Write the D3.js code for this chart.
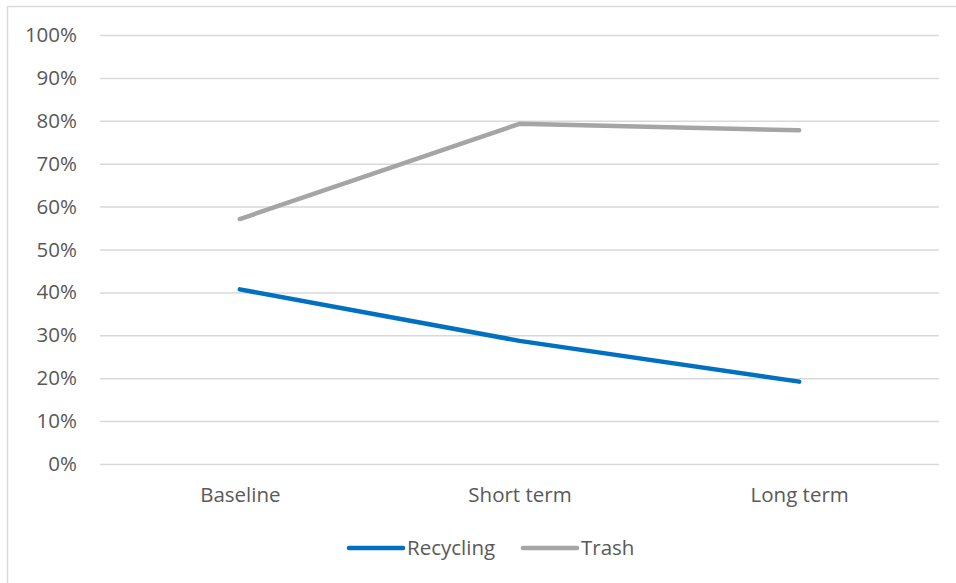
<!DOCTYPE html>
<html><head><meta charset="utf-8">
<script src="https://cdn.jsdelivr.net/npm/d3@7"></script>
<style>body{margin:0;background:#fff;} svg{display:block;}</style>
</head><body>
<script>
const categories = ["Baseline", "Short term", "Long term"];
const recycling = [0.407, 0.287, 0.192];
const trash = [0.571, 0.793, 0.778];
const seriesNames = ["Recycling", "Trash"];
const yTicks = [0, 0.1, 0.2, 0.3, 0.4, 0.5, 0.6, 0.7, 0.8, 0.9, 1.0];

(function () {
const W = 956, H = 583;
const svg = d3.select("body").append("svg").attr("width", W).attr("height", H);
const font = "'Open Sans', sans-serif";
const fontSize = "20.5px";
const textColor = "#595959";

svg.append("rect").attr("x", 7.5).attr("y", 6.5).attr("width", 960).attr("height", 600)
  .attr("fill", "#fff").attr("stroke", "#D9D9D9").attr("stroke-width", 1.5);

const pLeft = 100, pRight = 939, pTop = 35, pBottom = 464;
const x = d3.scalePoint().domain(categories).range([pLeft, pRight]).padding(0.5);
const y = d3.scaleLinear().domain([0, 1]).range([pBottom, pTop]);

const yAxis = d3.axisLeft(y).tickValues(yTicks).tickFormat(d3.format(".0%")).tickSize(-(pRight - pLeft)).tickPadding(23);
const gy = svg.append("g").attr("transform", `translate(${pLeft},0)`).call(yAxis);
gy.select(".domain").remove();
gy.selectAll(".tick line").attr("stroke", "#D9D9D9").attr("stroke-width", 1.5);
gy.selectAll(".tick text").attr("fill", textColor).style("font-family", font).style("font-size", fontSize);

const xAxis = d3.axisBottom(x).tickSize(0).tickPadding(23.5);
const gx = svg.append("g").attr("transform", `translate(0,${pBottom})`).call(xAxis);
gx.select(".domain").remove();
gx.selectAll(".tick text").attr("fill", textColor).style("font-family", font).style("font-size", fontSize);

const colors = ["#0070C0", "#A5A5A5"];
const data = [recycling, trash];
const line = d3.line().x((d, i) => x(categories[i])).y(d => y(d));
data.forEach((s, k) => {
  svg.append("path").datum(s).attr("d", line).attr("fill", "none")
    .attr("stroke", colors[k]).attr("stroke-width", 4.5)
    .attr("stroke-linecap", "round").attr("stroke-linejoin", "round");
});

const legX = [349, 523];
const legY = 548;
seriesNames.forEach((n, k) => {
  svg.append("line").attr("x1", legX[k]).attr("x2", legX[k] + 54).attr("y1", legY).attr("y2", legY)
    .attr("stroke", colors[k]).attr("stroke-width", 4.5).attr("stroke-linecap", "round");
  svg.append("text").attr("x", legX[k] + 58).attr("y", legY).attr("dy", "0.35em")
    .attr("fill", textColor).style("font-family", font).style("font-size", fontSize).text(n);
});
})();
</script>
</body></html>
